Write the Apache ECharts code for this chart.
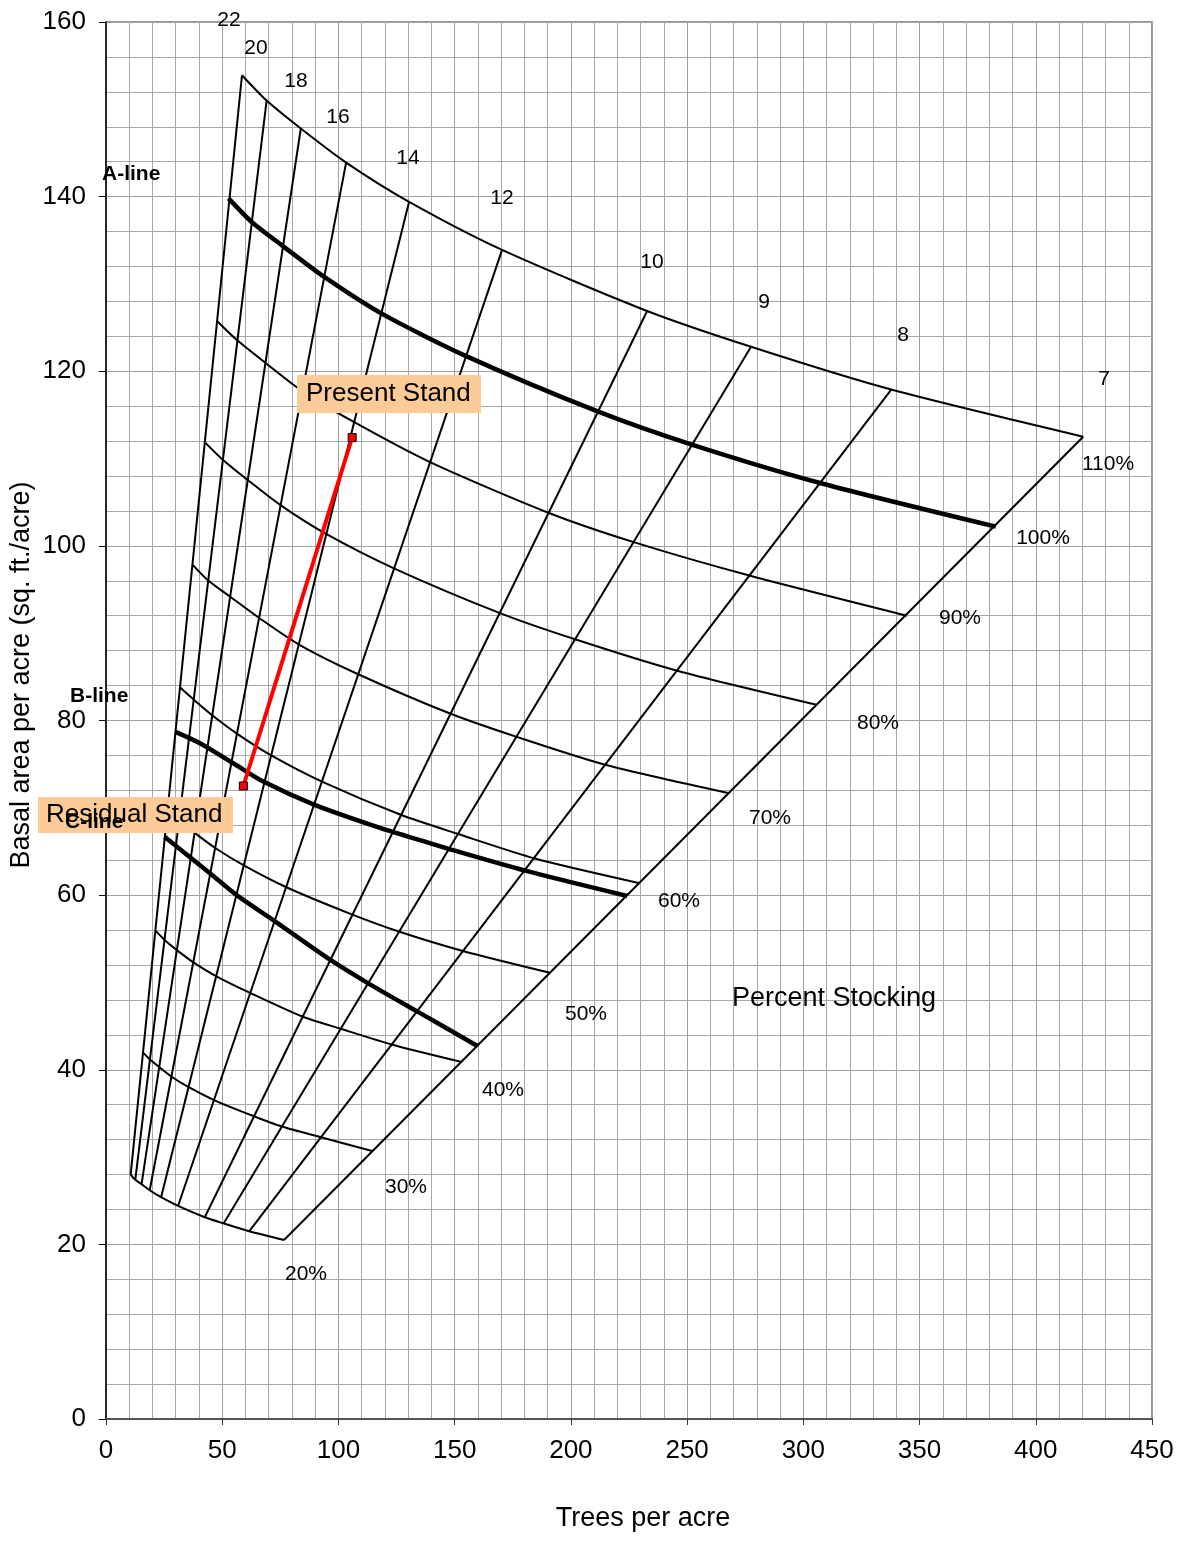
<!DOCTYPE html>
<html><head><meta charset="utf-8">
<script src="https://cdn.jsdelivr.net/npm/echarts@6/dist/echarts.min.js"></script>
<style>html,body{margin:0;padding:0;background:#fff}#c{width:1183px;height:1543px}</style>
</head><body><div id="c"></div>
<script>
// ---- data ----
// order of points along each stocking curve: average diameter 22,20,18,16,14,12,10,9,8,7 in.
const diameters = ['22','20','18','16','14','12','10','9','8','7'];
const stockingLabels = ['110%','100%','90%','80%','70%','60%','50%','40%','30%','20%'];
const s110 = [[58.5,153.9],[69.1,151.0],[83.8,147.8],[103.3,143.9],[130.4,139.4],[170.4,133.9],[232.8,126.9],[277.5,122.8],[337.8,117.9],[420.4,112.5]];
const aLine = [[52.7,139.8],[62.7,137.1],[76.3,134.3],[93.9,130.8],[118.6,126.6],[155.2,121.7],[211.5,115.4],[252.0,111.6],[307.2,107.2],[382.8,102.2]];
const s90 = [[48.0,125.7],[56.2,123.6],[68.4,121.0],[84.5,117.7],[106.6,114.2],[139.4,109.6],[190.3,103.8],[227.4,100.4],[276.8,96.6],[344.5,92.0]];
const s80 = [[42.8,111.8],[50.1,109.9],[60.7,107.6],[74.9,104.7],[94.5,101.4],[124.1,97.4],[169.5,92.3],[201.8,89.3],[245.7,85.7],[305.7,81.8]];
const s70 = [[37.4,97.8],[43.7,96.1],[53.3,94.2],[65.6,91.8],[83.0,88.7],[108.5,85.3],[148.0,80.8],[177.0,78.1],[215.2,74.9],[267.6,71.7]];
const s60 = [[31.8,83.8],[37.7,82.4],[45.7,80.6],[56.3,78.5],[71.1,76.0],[92.9,73.0],[126.8,69.2],[151.5,67.0],[184.5,64.2],[229.1,61.4]];
const s50 = [[26.6,70.0],[31.4,68.6],[38.3,67.1],[47.0,65.4],[59.3,63.4],[77.6,60.9],[105.7,57.8],[126.3,55.8],[153.5,53.6],[191.0,51.1]];
const s40 = [[21.4,55.9],[25.1,54.9],[30.5,53.7],[37.6,52.3],[47.5,50.7],[62.0,48.8],[84.4,46.1],[100.9,44.7],[122.8,42.9],[152.9,40.9]];
const s30 = [[16.2,41.9],[18.8,41.2],[22.9,40.3],[28.2,39.2],[35.6,38.0],[46.7,36.5],[63.4,34.7],[75.6,33.5],[92.1,32.3],[114.5,30.7]];
const s20 = [[10.6,28.0],[12.6,27.4],[15.3,26.9],[18.8,26.2],[23.7,25.4],[31.0,24.4],[42.5,23.1],[50.6,22.4],[61.6,21.5],[76.6,20.5]];
const bLine = [[29.9,78.7],[40.4,77.4],[54.8,75.1],[67.7,73.0],[89.2,70.4],[117.9,67.7],[135.1,66.3],[147.3,65.3],[180.3,62.8],[224.2,59.9]];
const cLine = [[25.2,66.7],[44.7,62.5],[56.2,60.0],[72.7,57.0],[96.4,52.6],[112.8,49.9],[134.4,46.6],[160.0,42.7]];
const presentStand = [105.9,112.4];
const residualStand = [59.1,72.5];
const xTicks = [0,50,100,150,200,250,300,350,400,450];
const yTicks = [0,20,40,60,80,100,120,140,160];

// ---- layout (pixels) ----
const FONT = 'Liberation Sans, Arial, sans-serif';
const dLabelPos = [[229,20],[256,48],[296,81],[338,117],[408,158],[502,198],[652,262],[764,302],[903,335],[1104,379]];
const sLabelPos = [[1108,464],[1043,538],[960,618],[878,723],[770,818],[679,901],[586,1014],[503,1090],[406,1187],[306,1274]];

const thin = {color:'#000', width:2};
const thick = {color:'#000', width:4.5};
function lineSeries(data, style, z) {
  return {type:'line', data:data, symbol:'none', smooth:0.25,
    lineStyle:style, silent:true, z:z||3, clip:false};
}
const series = [];
// diameter lines (straight rays from the 20% curve to the 110% curve)
for (let i = 0; i < diameters.length; i++) {
  series.push({type:'line', data:[s20[i], s110[i]], symbol:'none', lineStyle:thin, z:3, silent:true});
}
[s110, s90, s80, s70, s60, s50, s40, s30, s20].forEach(s => series.push(lineSeries(s, thin)));
[aLine, bLine, cLine].forEach(s => series.push(lineSeries(s, thick, 4)));
series.push({type:'line', data:[presentStand, residualStand], symbol:'rect', symbolSize:8,
  itemStyle:{color:'#ff0000', borderColor:'#000', borderWidth:1},
  lineStyle:{color:'#ff0000', width:4}, z:6, silent:true});

const graphic = [];
diameters.forEach((t,i) => graphic.push({type:'text', x:dLabelPos[i][0], y:dLabelPos[i][1], z:100,
  style:{text:t, font:'21px ' + FONT, fill:'#000', align:'center', verticalAlign:'middle'}}));
stockingLabels.forEach((t,i) => graphic.push({type:'text', x:sLabelPos[i][0], y:sLabelPos[i][1], z:100,
  style:{text:t, font:'21px ' + FONT, fill:'#000', align:'center', verticalAlign:'middle'}}));
graphic.push({type:'text', x:834, y:999, z:100, style:{text:'Percent Stocking', font:'27px ' + FONT, fill:'#000', align:'center', verticalAlign:'middle'}});
graphic.push({type:'text', x:102, y:174, z:100, style:{text:'A-line', font:'bold 21px ' + FONT, fill:'#000', align:'left', verticalAlign:'middle'}});
graphic.push({type:'text', x:70, y:696, z:100, style:{text:'B-line', font:'bold 21px ' + FONT, fill:'#000', align:'left', verticalAlign:'middle'}});
graphic.push({type:'rect', shape:{x:297, y:375, width:184, height:38}, z:100, style:{fill:'#FCCB98'}});
graphic.push({type:'text', x:306, y:394, z:101, style:{text:'Present Stand', font:'26px ' + FONT, fill:'#000', align:'left', verticalAlign:'middle'}});
graphic.push({type:'rect', shape:{x:38, y:797, width:195, height:36}, z:100, style:{fill:'#FCCB98'}});
graphic.push({type:'text', x:46, y:815, z:101, style:{text:'Residual Stand', font:'26px ' + FONT, fill:'#000', align:'left', verticalAlign:'middle'}});
graphic.push({type:'text', x:65, y:822, z:102, style:{text:'C-line', font:'bold 21px ' + FONT, fill:'#000', align:'left', verticalAlign:'middle'}});
graphic.push({type:'text', x:643, y:1519, z:100, style:{text:'Trees per acre', font:'27px ' + FONT, fill:'#000', align:'center', verticalAlign:'middle'}});
graphic.push({type:'text', x:22, y:675, rotation:Math.PI/2, z:100, style:{text:'Basal area per acre (sq. ft./acre)', font:'27px ' + FONT, fill:'#000', align:'center', verticalAlign:'middle'}});

const chart = echarts.init(document.getElementById('c'), null, {renderer:'canvas'});
chart.setOption({
  animation:false,
  backgroundColor:'#fff',
  grid:{left:106, right:31, top:22, bottom:124, show:true, borderColor:'#999', borderWidth:2, backgroundColor:'transparent'},
  xAxis:{type:'value', min:xTicks[0], max:xTicks[xTicks.length-1], interval:xTicks[1]-xTicks[0],
    axisLine:{show:true, onZero:false, lineStyle:{color:'#555', width:2}},
    axisTick:{show:true, length:6, lineStyle:{color:'#333', width:1}},
    axisLabel:{fontSize:26, fontFamily:FONT, color:'#000', margin:19},
    splitLine:{show:true, lineStyle:{color:'#a0a0a0', width:1}},
    minorTick:{show:false, splitNumber:5},
    minorSplitLine:{show:true, lineStyle:{color:'#a8a8a8', width:1}}},
  yAxis:{type:'value', min:yTicks[0], max:yTicks[yTicks.length-1], interval:yTicks[1]-yTicks[0],
    axisLine:{show:true, onZero:false, lineStyle:{color:'#000', width:1.5}},
    axisTick:{show:true, length:7, lineStyle:{color:'#000', width:1}},
    axisLabel:{fontSize:26, fontFamily:FONT, color:'#000', margin:20},
    splitLine:{show:true, lineStyle:{color:'#a0a0a0', width:1}},
    minorTick:{show:false, splitNumber:5},
    minorSplitLine:{show:true, lineStyle:{color:'#a8a8a8', width:1}}},
  series:series,
  graphic:graphic
});
</script></body></html>
